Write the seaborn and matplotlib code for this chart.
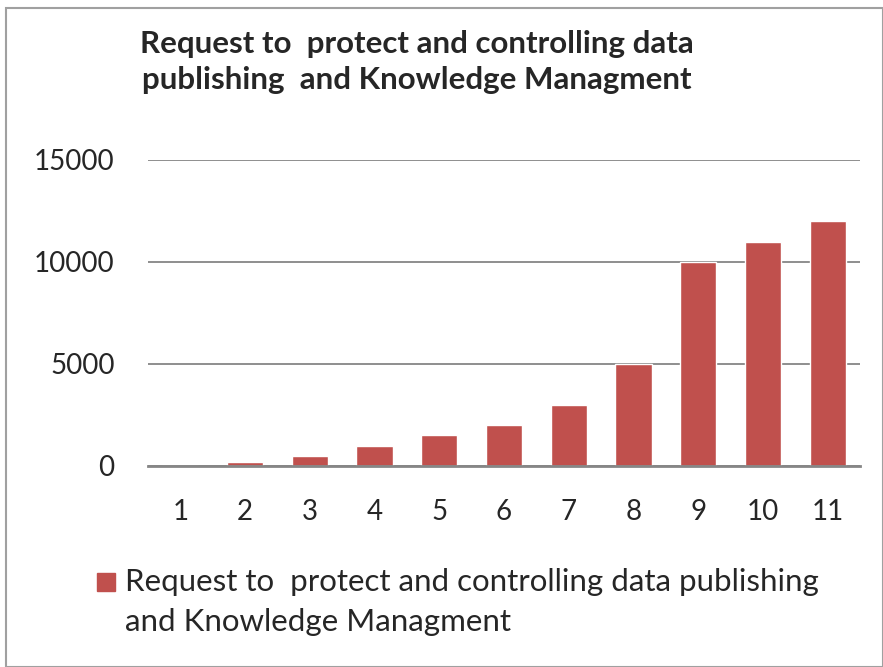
import matplotlib
matplotlib.use("Agg")
import matplotlib.pyplot as plt
import seaborn as sns
import pandas as pd
from matplotlib.patches import Rectangle

categories = ["1", "2", "3", "4", "5", "6", "7", "8", "9", "10", "11"]
values = [0, 200, 500, 1000, 1500, 2000, 3000, 5000, 10000, 11000, 12000]
series_name = "Request to  protect and controlling data publishing\nand Knowledge Managment"
title = "Request to  protect and controlling data\npublishing  and Knowledge Managment"
yticks = [0, 5000, 10000, 15000]

sns.set_theme(style="white")
plt.rcParams['font.family'] = ['Lato', 'DejaVu Sans']

df = pd.DataFrame({"cat": categories, "val": values})

fig = plt.figure(figsize=(8.83, 6.67), dpi=100)
ax = fig.add_axes([148/883, 1-466/667, (860-148)/883, (466-160)/667])
sns.barplot(data=df, x="cat", y="val", color="#C0504D", saturation=1, width=0.56, ax=ax)
ax.set_ylim(0, 15000)
ax.set_xlim(-0.5, 10.5)
ax.set_yticks(yticks)
ax.set_yticklabels([str(t) for t in yticks], fontsize=20)
ax.tick_params(axis='x', labelsize=20, length=0, pad=24)
ax.tick_params(axis='y', length=0, pad=24)
ax.set_xlabel("")
ax.set_ylabel("")
for s in ["top", "right", "left"]:
    ax.spines[s].set_visible(False)
ax.spines["bottom"].set_color("#868686")
ax.spines["bottom"].set_linewidth(2)
ax.grid(axis='y', color="#868686", linewidth=1.3)
ax.set_axisbelow(True)

fig.text(417/883, 1-62/667, title, ha='center', va='center', fontsize=22.5,
         fontweight='bold', linespacing=1.35)

# legend
fig.patches.append(Rectangle((97/883, 1-591/667), 18/883, 18/667,
                             transform=fig.transFigure, color="#C0504D"))
fig.text(125/883, 1-602/667, series_name, ha='left', va='center', fontsize=22.5,
         linespacing=1.55)

# chart border
fig.patches.append(Rectangle((6/883, 0), 877/883, 1-8/667, transform=fig.transFigure,
                             fill=False, edgecolor="#A0A0A0", linewidth=1.5))

fig.savefig("out.png", dpi=100)
